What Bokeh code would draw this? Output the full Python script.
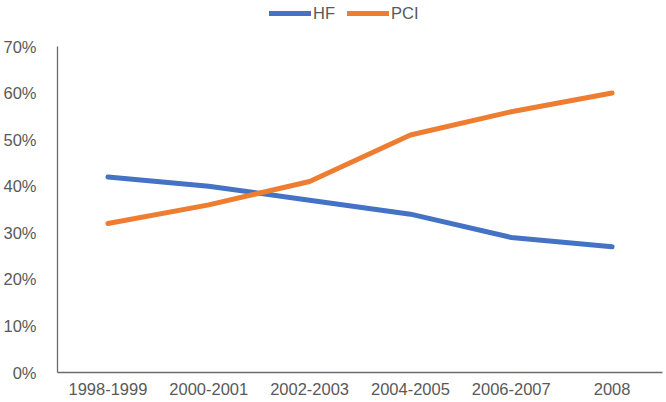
from bokeh.plotting import figure
from bokeh.models import FactorRange, Range1d, Legend, LegendItem, NumeralTickFormatter, FixedTicker
from bokeh.embed import file_html
from bokeh.resources import INLINE

categories = ["1998-1999", "2000-2001", "2002-2003", "2004-2005", "2006-2007", "2008"]
hf = [0.42, 0.40, 0.37, 0.34, 0.29, 0.27]
pci = [0.32, 0.36, 0.41, 0.51, 0.56, 0.60]
y_ticks = [0, 0.1, 0.2, 0.3, 0.4, 0.5, 0.6, 0.7]
y_max = 0.70

# frame extends to the top of the page so the legend can sit inside it
y_top = y_max * 372 / 326

p = figure(width=666, height=402, x_range=FactorRange(*categories, range_padding=0),
           y_range=Range1d(0, y_top), output_backend="svg", toolbar_location=None,
           min_border_left=52, min_border_right=4, min_border_top=0, min_border_bottom=30)
p.outline_line_color = None
p.xgrid.grid_line_color = None
p.ygrid.grid_line_color = None

r1 = p.line(categories, hf, line_color="#4472C4", line_width=5, line_cap="round", line_join="round")
r2 = p.line(categories, pci, line_color="#ED7D31", line_width=5, line_cap="round", line_join="round")

font = "Liberation Sans"
for ax in (p.xaxis[0], p.yaxis[0]):
    ax.axis_line_color = "#6b6b6b"
    ax.axis_line_width = 1.3
    ax.major_tick_line_color = None
    ax.minor_tick_line_color = None
    ax.major_label_text_font = font
    ax.major_label_text_font_size = "16.5px"
    ax.major_label_text_color = "#595959"

p.yaxis[0].ticker = FixedTicker(ticks=y_ticks)
p.yaxis[0].bounds = (0, y_max)
p.yaxis[0].formatter = NumeralTickFormatter(format="0%")
p.yaxis[0].major_label_standoff = 15
p.xaxis[0].major_label_standoff = 4

legend = Legend(items=[LegendItem(label="HF", renderers=[r1]), LegendItem(label="PCI", renderers=[r2])],
                orientation="horizontal", location=(212, 349), glyph_width=42, glyph_height=20,
                label_height=20, label_standoff=2, spacing=12, padding=0, margin=0,
                border_line_color=None, background_fill_alpha=0,
                label_text_font=font, label_text_font_size="16.5px", label_text_color="#595959")
p.add_layout(legend, "center")

open("out.html", "w").write(file_html(p, INLINE))
